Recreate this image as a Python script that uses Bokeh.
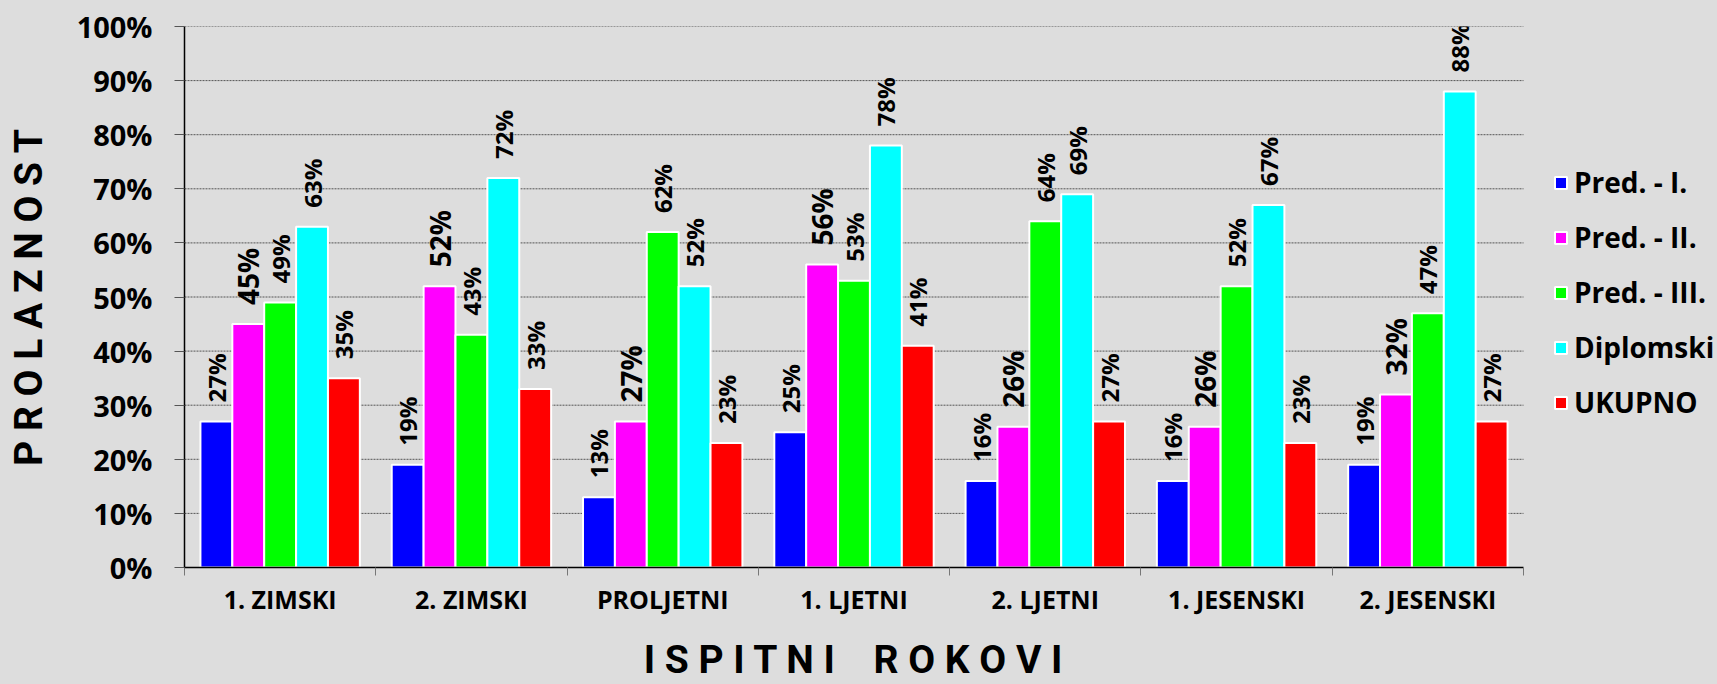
import numpy as np
from bokeh.plotting import figure
from bokeh.models import (ColumnDataSource, Range1d, FixedTicker, Legend, LegendItem,
                          GlobalInlineStyleSheet)
from bokeh.core.properties import value
from bokeh.embed import file_html
from bokeh.resources import INLINE

# ---------------- data ----------------
categories = ["1. ZIMSKI", "2. ZIMSKI", "PROLJETNI", "1. LJETNI",
              "2. LJETNI", "1. JESENSKI", "2. JESENSKI"]
series_names = ["Pred. - I.", "Pred. - II.", "Pred. - III.", "Diplomski", "UKUPNO"]
pred_1 = [27, 19, 13, 25, 16, 16, 19]
pred_2 = [45, 52, 27, 56, 26, 26, 32]
pred_3 = [49, 43, 62, 53, 64, 52, 47]
diplomski = [63, 72, 52, 78, 69, 67, 88]
ukupno = [35, 33, 23, 41, 27, 23, 27]
y_ticks = [0, 10, 20, 30, 40, 50, 60, 70, 80, 90, 100]
y_tick_labels = ["0%", "10%", "20%", "30%", "40%", "50%", "60%", "70%", "80%", "90%", "100%"]
x_title_words = ["ISPITNI", "ROKOVI"]
y_title_words = ["PROLAZNOST"]

# ---------------- style / layout ----------------
FONT = "Open Sans"
TITLE_FONT = "Roboto"
BG = "#dddddd"
colors = ["#0000ff", "#ff00ff", "#00ff00", "#00ffff", "#ff0000"]
label_sizes = ["24px", "28px", "24px", "24px", "24px"]
bar_w = 1.0 / 6.0

PLOT_LEFT = 184          # px left of plotting area
PLOT_W = 1339            # px width of the bar area
FULL_W = 1717
FRAME_W = FULL_W - PLOT_LEFT   # frame also hosts the legend on the right
n_cat = len(categories)
x_end = n_cat * FRAME_W / PLOT_W

LETTER_GAP = " "
WORD_GAP = " \u00a0\u00a0\u00a0"   # non-collapsing spaces between words
NBSP = "\u00a0"


def spaced(words):
    return WORD_GAP.join(LETTER_GAP.join(list(w)) for w in words)


p = figure(frame_width=FRAME_W, frame_height=541,
           x_range=Range1d(0, x_end), y_range=Range1d(0, 100),
           output_backend="svg", toolbar_location=None,
           min_border_left=PLOT_LEFT, min_border_right=0,
           min_border_top=26, min_border_bottom=117)
p.background_fill_color = BG
p.border_fill_color = BG
p.outline_line_color = None
p.stylesheets = [GlobalInlineStyleSheet(css="body{background:%s;}" % BG)]

# horizontal grid lines limited to the bar area
p.xgrid.visible = False
p.ygrid.visible = False
p.segment(x0=0, x1=n_cat, y0=y_ticks[1:], y1=y_ticks[1:],
          line_color="#555555", line_dash="2 1", line_width=1)

all_series = [pred_1, pred_2, pred_3, diplomski, ukupno]
renderers = []
for j, vals in enumerate(all_series):
    xs = [i + 0.5 + (j - 2) * bar_w for i in range(n_cat)]
    src = ColumnDataSource(dict(x=xs, top=vals, label=["%d%%" % v for v in vals]))
    r = p.vbar(x="x", top="top", bottom=0, width=bar_w, source=src,
               fill_color=colors[j], line_color="white", line_width=2)
    renderers.append(r)
    p.text(x="x", y="top", text="label", source=src, angle=np.pi / 2,
           text_align="left", text_baseline="middle", y_offset=-19,
           text_font=value(FONT), text_font_style="bold",
           text_font_size=label_sizes[j], text_color="black")

# ---------------- axes ----------------
xa = p.xaxis[0]
xa.bounds = (0, n_cat)
xa.ticker = FixedTicker(ticks=[i + 0.5 for i in range(n_cat)],
                        minor_ticks=list(range(n_cat + 1)))
xa.major_label_overrides = {i + 0.5: c for i, c in enumerate(categories)}
xa.major_tick_line_color = None
xa.major_tick_out = 8
xa.major_tick_in = 0
xa.minor_tick_out = 8
xa.minor_tick_in = 0
xa.minor_tick_line_color = "#777777"
xa.axis_line_color = "black"
xa.axis_line_width = 1.5
xa.major_label_text_font = FONT
xa.major_label_text_font_style = "bold"
xa.major_label_text_font_size = "25px"
xa.major_label_text_color = "black"
xa.major_label_standoff = 6
# trailing non-breaking spaces shift the (frame-centred) title over the bar area
xa.axis_label = spaced(x_title_words) + NBSP * 20
xa.axis_label_text_font = TITLE_FONT
xa.axis_label_text_font_style = "bold"
xa.axis_label_text_font_size = "39px"
xa.axis_label_text_color = "black"
xa.axis_label_standoff = 18

ya = p.yaxis[0]
ya.ticker = FixedTicker(ticks=y_ticks)
ya.major_label_overrides = {t: l for t, l in zip(y_ticks, y_tick_labels)}
ya.major_tick_out = 10
ya.major_tick_in = 0
ya.major_tick_line_color = "#555555"
ya.minor_tick_line_color = None
ya.axis_line_color = "black"
ya.axis_line_width = 1.5
ya.major_label_text_font = FONT
ya.major_label_text_font_style = "bold"
ya.major_label_text_font_size = "29px"
ya.major_label_text_color = "black"
ya.major_label_standoff = 22
ya.axis_label = spaced(y_title_words)
ya.axis_label_text_font = TITLE_FONT
ya.axis_label_text_font_style = "bold"
ya.axis_label_text_font_size = "39px"
ya.axis_label_text_color = "black"
ya.axis_label_standoff = 22

# ---------------- legend ----------------
legend = Legend(items=[LegendItem(label=n, renderers=[r]) for n, r in zip(series_names, renderers)],
                location=(PLOT_W + 30, 146), orientation="vertical",
                glyph_width=15, glyph_height=15, spacing=17,
                padding=0, margin=0, label_standoff=6,
                border_line_color=None, background_fill_alpha=0,
                label_text_font=FONT, label_text_font_style="bold",
                label_text_font_size="28px", label_text_color="black")
p.add_layout(legend, "center")

open("out.html", "w").write(file_html(p, INLINE))
